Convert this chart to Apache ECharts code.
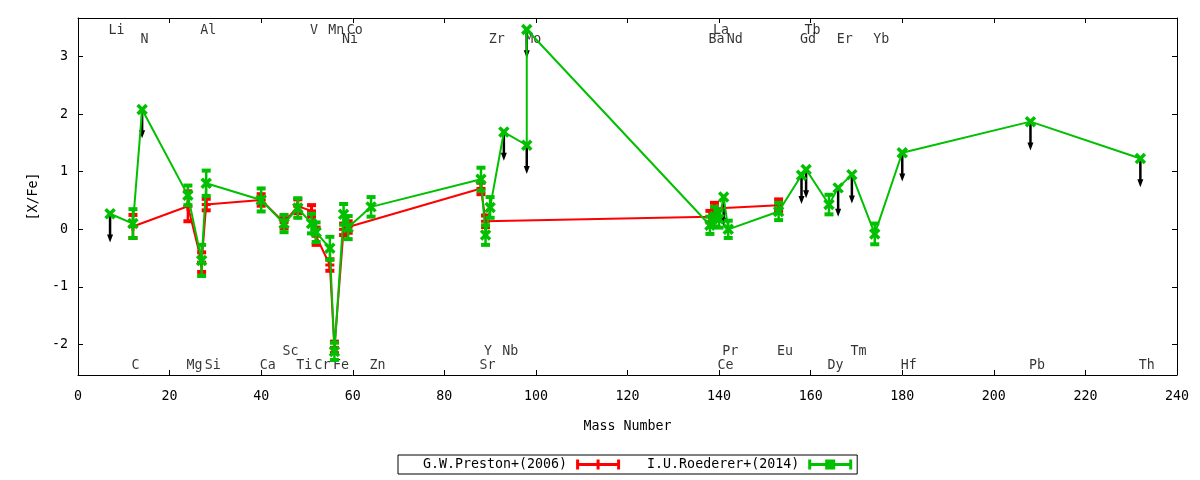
<!DOCTYPE html>
<html>
<head>
<meta charset="utf-8">
<script src="https://cdn.jsdelivr.net/npm/echarts@6/dist/echarts.min.js"></script>
<style>
html,body{margin:0;padding:0;background:#fff;}
#chart{width:1200px;height:480px;}
</style>
</head>
<body>
<div id="chart"></div>
<script>
// ---- Data: G.W.Preston+(2006)
const prestonElem  = ['C','Mg','Al','Si','Ca','Sc','Ti','V','Cr','Mn','Fe','Ni','Co','Sr','Y','Ba','La','Eu'];
const prestonMass  = [12,24,27,28,40,45,48,51,52,55,56,58,59,88,89,138,139,153];
const prestonValue = [0.05,0.40,-0.57,0.43,0.51,0.12,0.40,0.32,-0.12,-0.62,-2.05,0.00,0.04,0.71,0.14,0.22,0.36,0.42];
const prestonError = [0.20,0.26,0.17,0.10,0.10,0.10,0.12,0.10,0.15,0.10,0.10,0.10,0.10,0.10,0.10,0.10,0.10,0.10];

// ---- Data: I.U.Roederer+(2014)
const roedererElem  = ['Li','C','N','Mg','Al','Si','Ca','Sc','Ti','V','Cr','Mn','Fe','Ni','Co','Zn','Sr','Y','Zr','Nb','Mo','Mo','Ba','La','Ce','Pr','Nd','Eu','Gd','Tb','Dy','Er','Tm','Yb','Hf','Pb','Th'];
const roedererMass  = [7,12,14,24,27,28,40,45,48,51,52,55,56,58,59,64,88,89,90,93,98,98,138,139,140,141,142,153,158,159,164,166,169,174,180,208,232];
const roedererValue = [0.27,0.10,2.08,0.59,-0.54,0.80,0.51,0.10,0.37,0.10,-0.05,-0.33,-2.12,0.26,0.03,0.39,0.87,-0.10,0.38,1.69,1.46,3.47,0.07,0.22,0.18,0.56,0.00,0.31,0.94,1.04,0.43,0.72,0.95,-0.08,1.33,1.87,1.23];
const roedererError = [0,0.25,0,0.17,0.27,0.22,0.20,0.15,0.17,0.17,0.17,0.20,0.15,0.18,0.20,0.17,0.20,0.17,0.18,0,0,0,0.15,0.17,0.15,0,0.15,0.15,0,0,0.17,0,0,0.18,0,0,0];
const roedererUpper = [1,0,1,0,0,0,0,0,0,0,0,0,0,0,0,0,0,0,0,1,1,1,0,0,0,1,0,0,1,1,0,1,1,0,1,1,1];
const upperLimitLength = 0.5;

// ---- Element name labels (row: 0,1 top; 2,3 bottom)
const labelNames = ['Li','Al','V','Mn','Co','La','Tb',
                    'N','Ni','Zr','Mo','Ba','Nd','Gd','Er','Yb',
                    'Sc','Y','Nb','Pr','Eu','Tm',
                    'C','Mg','Si','Ca','Ti','Cr','Fe','Zn','Sr','Ce','Dy','Hf','Pb','Th'];
const labelMass  = [7,27,51,55,59,139,159,
                    14,58,90,98,138,142,158,166,174,
                    45,89,93,141,153,169,
                    12,24,28,40,48,52,56,64,88,140,164,180,208,232];
const labelRow   = [0,0,0,0,0,0,0,
                    1,1,1,1,1,1,1,1,1,
                    2,2,2,2,2,2,
                    3,3,3,3,3,3,3,3,3,3,3,3,3,3];
const rowValue = [3.46, 3.29, -2.13, -2.37];

const xTickInterval = 20;
const xMin = 0, xMax = 240;
const yMin = -2.53, yMax = 3.67;

const FONT = "'DejaVu Sans Mono', monospace";
const FS = 13.3;
const RED = '#ff0000';
const GREEN = '#00c000';

const prestonLine = prestonMass.map((m, i) => [m, prestonValue[i]]);
const prestonErr  = prestonMass.map((m, i) => [m, prestonValue[i], prestonError[i]]);
const roedererLine = roedererMass.map((m, i) => [m, roedererValue[i]]);
const roedererErr  = roedererMass.map((m, i) => [m, roedererValue[i], roedererError[i]]);
const arrowData = roedererMass.map((m, i) => [m, roedererValue[i], roedererUpper[i]]).filter(d => d[2] === 1);
const labelData = labelNames.map((n, i) => [labelMass[i], rowValue[labelRow[i]], n]);

function errRenderer(color, marker) {
  return function (params, api) {
    const x = api.value(0), y = api.value(1), e = api.value(2);
    const p = api.coord([x, y]);
    const ch = [];
    if (e > 0) {
      const t = api.coord([x, y + e]);
      const b = api.coord([x, y - e]);
      ch.push({type: 'line', shape: {x1: p[0], y1: t[1], x2: p[0], y2: b[1]}, style: {stroke: color, lineWidth: 2.5}});
      ch.push({type: 'rect', shape: {x: p[0] - 4.5, y: t[1] - 2, width: 9, height: 4}, style: {fill: color}});
      ch.push({type: 'rect', shape: {x: p[0] - 4.5, y: b[1] - 2, width: 9, height: 4}, style: {fill: color}});
    }
    const s = 4.5;
    if (marker === 'x') {
      ch.push({type: 'line', shape: {x1: p[0] - s, y1: p[1] - s, x2: p[0] + s, y2: p[1] + s}, style: {stroke: color, lineWidth: 3.5}});
      ch.push({type: 'line', shape: {x1: p[0] - s, y1: p[1] + s, x2: p[0] + s, y2: p[1] - s}, style: {stroke: color, lineWidth: 3.5}});
    } else {
      ch.push({type: 'line', shape: {x1: p[0] - s, y1: p[1], x2: p[0] + s, y2: p[1]}, style: {stroke: color, lineWidth: 3}});
      ch.push({type: 'line', shape: {x1: p[0], y1: p[1] - s, x2: p[0], y2: p[1] + s}, style: {stroke: color, lineWidth: 3}});
    }
    return {type: 'group', children: ch};
  };
}

function arrowRenderer(params, api) {
  const x = api.value(0), y = api.value(1);
  const p0 = api.coord([x, y]);
  const p1 = api.coord([x, y - upperLimitLength]);
  return {type: 'group', children: [
    {type: 'line', shape: {x1: p0[0], y1: p0[1], x2: p1[0], y2: p1[1] - 5}, style: {stroke: '#000', lineWidth: 2.5}},
    {type: 'polygon', shape: {points: [[p1[0] - 3, p1[1] - 8], [p1[0] + 3, p1[1] - 8], [p1[0], p1[1]]]}, style: {fill: '#000'}}
  ]};
}

const tickStyle = {show: true, inside: true, length: 5, lineStyle: {color: '#000', width: 1}};
const lineAxis = {show: true, onZero: false, lineStyle: {color: '#000', width: 1}};
const txt = {color: '#000', fontFamily: FONT, fontSize: FS};

const redIcon = 'path://M0,0H3V3.5H20.5V0H23.5V3.5H41V0H44V10H41V6.5H23.5V10H20.5V6.5H3V10H0Z';
const greenIcon = 'path://M0,0H3V3.5H17V0H27V3.5H41V0H44V10H41V6.5H27V10H17V6.5H3V10H0Z';

const chart = echarts.init(document.getElementById('chart'), null, {renderer: 'canvas'});
chart.setOption({
  animation: false,
  backgroundColor: '#fff',
  grid: {left: 78, right: 23, top: 18, bottom: 105, containLabel: false},
  xAxis: [
    {type: 'value', min: xMin, max: xMax, interval: xTickInterval, position: 'bottom',
     axisLine: lineAxis, axisTick: tickStyle, splitLine: {show: false},
     axisLabel: Object.assign({margin: 15}, txt),
     name: 'Mass Number', nameLocation: 'middle', nameGap: 45, nameTextStyle: txt},
    {type: 'value', min: xMin, max: xMax, interval: xTickInterval, position: 'top',
     axisLine: lineAxis, axisTick: tickStyle, splitLine: {show: false}, axisLabel: {show: false}}
  ],
  yAxis: [
    {type: 'value', min: yMin, max: yMax, splitNumber: 6, position: 'left',
     axisLine: lineAxis, axisTick: tickStyle, splitLine: {show: false},
     axisLabel: Object.assign({margin: 10, showMinLabel: false, showMaxLabel: false,
       formatter: v => (Math.abs(v - Math.round(v)) < 1e-9 ? String(Math.round(v)) : '')}, txt),
     name: '[X/Fe]', nameLocation: 'middle', nameGap: 38, nameRotate: 90, nameTextStyle: txt},
    {type: 'value', min: yMin, max: yMax, splitNumber: 6, position: 'right',
     axisLine: lineAxis, axisTick: tickStyle, splitLine: {show: false}, axisLabel: {show: false}}
  ],
  legend: {
    left: 398, top: 455, orient: 'horizontal', align: 'right',
    itemWidth: 44, itemHeight: 10, itemGap: 27,
    padding: [3, 5, 3, 25], borderColor: '#000', borderWidth: 1,
    selectedMode: false,
    textStyle: Object.assign({padding: [0, 4, 0, 0]}, txt),
    data: [{name: 'G.W.Preston+(2006)', icon: redIcon}, {name: 'I.U.Roederer+(2014)', icon: greenIcon}]
  },
  series: [
    {type: 'scatter', name: 'labels', data: labelData, symbol: 'rect', symbolSize: 1, silent: true, z: 1,
     itemStyle: {color: 'rgba(0,0,0,0)'},
     label: Object.assign({show: true, position: 'right', distance: -2, formatter: p => p.value[2]}, txt)},
    {type: 'custom', name: 'upper limits', renderItem: arrowRenderer, data: arrowData, z: 2, silent: true,
     encode: {x: 0, y: 1}},
    {type: 'line', name: 'G.W.Preston+(2006)', data: prestonLine, showSymbol: false, symbol: 'none', z: 3,
     lineStyle: {color: RED, width: 2}, itemStyle: {color: RED}},
    {type: 'custom', name: 'preston-err', renderItem: errRenderer(RED, '+'), data: prestonErr, z: 3, silent: true,
     encode: {x: 0, y: 1}},
    {type: 'line', name: 'I.U.Roederer+(2014)', data: roedererLine, showSymbol: false, symbol: 'none', z: 4,
     lineStyle: {color: GREEN, width: 2}, itemStyle: {color: GREEN}},
    {type: 'custom', name: 'roederer-err', renderItem: errRenderer(GREEN, 'x'), data: roedererErr, z: 4, silent: true,
     encode: {x: 0, y: 1}}
  ]
});
</script>
</body>
</html>
